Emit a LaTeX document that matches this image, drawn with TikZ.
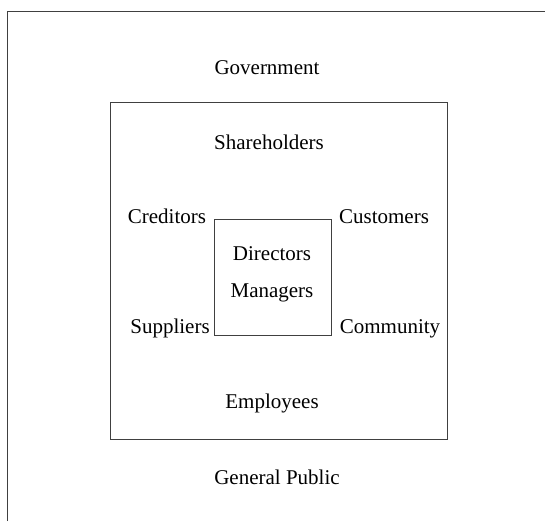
\documentclass[tikz,border=0pt]{standalone}
\usepackage{fontspec}
\setmainfont{Liberation Serif}
\tikzset{
  party/.style={anchor=base, inner sep=0pt, font=\fontsize{21}{25}\selectfont},
  frame/.style={line width=0.9pt, color=black!75}
}
\begin{document}
\begin{tikzpicture}[x=1pt, y=-1pt]
  \useasboundingbox (0,0) rectangle (545,521);
  % Draw frames
  \draw [frame] (7,521) -- (7,11) -- (545,11);
  \draw [frame] (110,102) rectangle (447,439);
  \draw [frame] (214,219) rectangle (331,335);

  % Draw outer ring
  \node [party] (gov) at (267,75) {Government};
  \node [party] (pub) at (277,484) {General Public};

  % Draw middle ring
  \node [party] (share) at (269,150) {Shareholders};
  \node [party] (cred) at (167,223) {Creditors};
  \node [party] (cust) at (384,223) {Customers};
  \node [party] (supp) at (170,333) {Suppliers};
  \node [party] (comm) at (390,333) {Community};
  \node [party] (empl) at (272,408) {Employees};

  % Draw centre
  \node [party] (dir) at (272,260) {Directors};
  \node [party] (man) at (272,297) {Managers};
\end{tikzpicture}
\end{document}
